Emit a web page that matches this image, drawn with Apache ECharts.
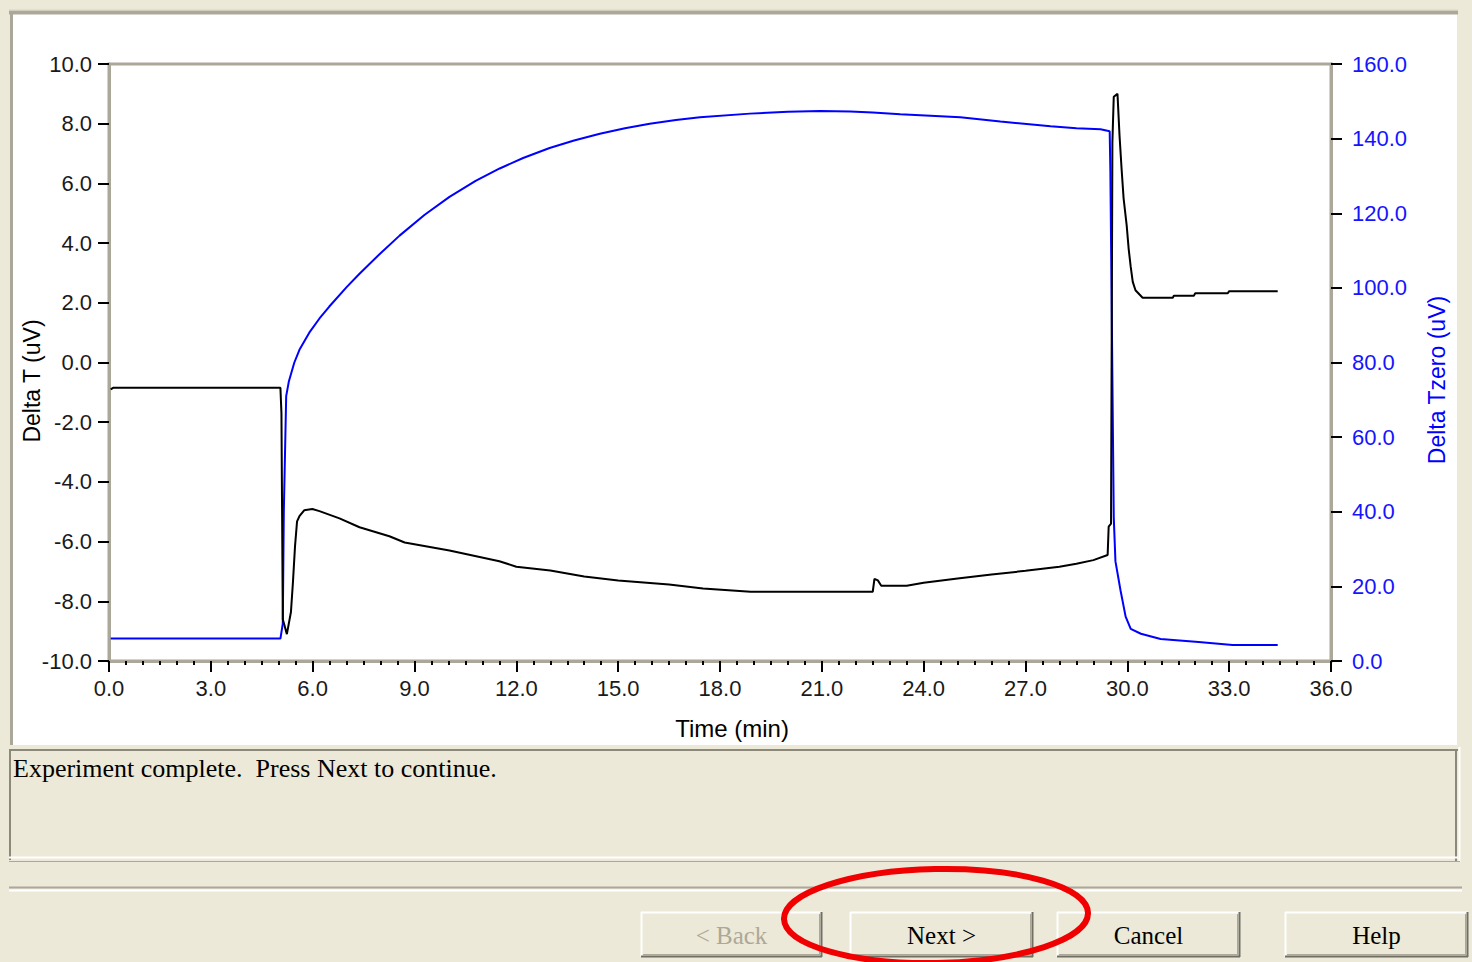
<!DOCTYPE html>
<html>
<head>
<meta charset="utf-8">
<script src="https://cdn.jsdelivr.net/npm/echarts@6/dist/echarts.min.js"></script>
<style>
html,body{margin:0;padding:0;background:#ece9d8;}
#chart{width:1472px;height:962px;}
</style>
</head>
<body>
<div id="chart"></div>
<script>
// ---- Data ----
const blackTime = [0.05, 0.12, 5.05, 5.08, 5.12, 5.24, 5.36, 5.42, 5.48, 5.54, 5.61, 5.75, 5.99, 6.20, 6.79, 7.38, 8.26, 8.71, 10.03, 11.5, 12.0, 13.0, 14.0, 15.0, 16.5, 17.5, 18.9, 22.5, 22.55, 22.65, 22.75, 23.5, 24.0, 25.0, 26.0, 27.0, 28.0, 28.5, 29.0, 29.42, 29.45, 29.52, 29.56, 29.6, 29.71, 29.77, 29.83, 29.89, 29.98, 30.04, 30.1, 30.16, 30.24, 30.45, 31.34, 31.37, 31.96, 32.0, 32.96, 33.0, 34.43];
const deltaT = [-0.9, -0.85, -0.85, -1.7, -8.6, -9.1, -8.36, -7.34, -6.16, -5.32, -5.15, -4.95, -4.91, -4.98, -5.22, -5.52, -5.82, -6.03, -6.30, -6.66, -6.84, -6.97, -7.17, -7.30, -7.44, -7.57, -7.68, -7.68, -7.25, -7.30, -7.48, -7.48, -7.38, -7.24, -7.10, -6.98, -6.84, -6.74, -6.62, -6.45, -5.5, -5.4, 7.4, 8.9, 9.0, 7.6, 6.5, 5.5, 4.6, 3.8, 3.2, 2.7, 2.42, 2.17, 2.17, 2.24, 2.24, 2.32, 2.32, 2.39, 2.39];

const blueTime = [0.05, 5.05, 5.12, 5.15, 5.22, 5.3, 5.46, 5.61, 5.9, 6.2, 6.49, 7.0, 7.38, 8.0, 8.56, 9.3, 10.03, 10.8, 11.51, 12.2, 12.98, 13.7, 14.46, 15.2, 15.93, 16.7, 17.41, 18.88, 20.0, 20.95, 21.84, 22.5, 23.31, 24.2, 25.08, 26.26, 27.74, 28.5, 29.21, 29.48, 29.5, 29.6, 29.65, 29.8, 29.95, 30.1, 30.4, 30.98, 32.1, 33.1, 34.43];
const deltaTzero = [6.0, 6.0, 10, 40, 71, 75, 80, 83.4, 88.0, 91.8, 95.0, 100.2, 103.8, 109.3, 114.0, 119.6, 124.4, 128.7, 132.0, 134.8, 137.5, 139.5, 141.3, 142.8, 144.0, 145.0, 145.7, 146.7, 147.2, 147.4, 147.3, 147.0, 146.5, 146.1, 145.7, 144.6, 143.3, 142.8, 142.5, 142.0, 131.4, 38.5, 26.7, 18.9, 11.9, 8.6, 7.3, 5.9, 5.1, 4.3, 4.3];

const xTitle = 'Time (min)';
const yLeftTitle = 'Delta T (uV)';
const yRightTitle = 'Delta Tzero (uV)';
const statusText = 'Experiment complete.  Press Next to continue.';
const buttonLabels = ['< Back', 'Next >', 'Cancel', 'Help'];

// ---- Chart ----
const chart = echarts.init(document.getElementById('chart'), null, {renderer: 'svg'});

const tickFont = {fontFamily: 'Liberation Sans, Arial, sans-serif', fontSize: 22};
const fmt = v => v.toFixed(1);
const GRAY = '#aca899';
const DARK = '#716f64';
const BEIGE = '#ece9d8';

function hline(x1, x2, y, color, w, z) {
  return {type: 'line', z: z || 1, silent: true, shape: {x1: x1, y1: y, x2: x2, y2: y}, style: {stroke: color, lineWidth: w || 1}};
}
function vline(x, y1, y2, color, w, z) {
  return {type: 'line', z: z || 1, silent: true, shape: {x1: x, y1: y1, x2: x, y2: y2}, style: {stroke: color, lineWidth: w || 1}};
}
function button(x1, x2, label, color) {
  const y1 = 912, y2 = 957;
  return [
    {type: 'rect', z: 1, silent: true, shape: {x: x1, y: y1, width: x2 - x1, height: y2 - y1}, style: {fill: BEIGE}},
    hline(x1, x2, y1 + 0.5, '#ffffff', 2, 2),
    vline(x1 + 0.5, y1, y2, '#ffffff', 2, 2),
    hline(x1, x2, y2 - 0.5, DARK, 2, 2),
    vline(x2 - 0.5, y1, y2, DARK, 2, 2),
    hline(x1 + 2, x2 - 2, y2 - 2.5, GRAY, 1, 2),
    vline(x2 - 2.5, y1 + 2, y2 - 2, GRAY, 1, 2),
    {type: 'text', z: 3, silent: true, x: (x1 + x2) / 2, y: 935,
     style: {text: label, fill: color, font: '25px "Liberation Serif", "Times New Roman", serif', align: 'center', verticalAlign: 'middle'}}
  ];
}

const graphics = [
  // white chart panel
  {type: 'rect', z: -10, silent: true, shape: {x: 12, y: 14, width: 1445, height: 731}, style: {fill: '#ffffff'}},
  hline(9, 1458, 12.5, GRAY, 4, -9),
  vline(11.5, 11, 745, GRAY, 3, -9),
  hline(9, 1458, 10, '#d8d4c4', 1, -9),
  // status box
  hline(9, 1458, 750, '#8c897b', 2, 1),
  vline(10, 749, 860, '#8c897b', 2, 1),
  vline(1456, 749, 861, '#8c897b', 2, 1),
  vline(1459.5, 747, 862, '#ffffff', 2, 1),
  hline(9, 1458, 857.5, '#ffffff', 2, 1),
  hline(9, 1460, 861.5, GRAY, 1, 1),
  {type: 'text', z: 3, silent: true, x: 13, y: 768,
   style: {text: statusText, fill: '#000000', font: '26px "Liberation Serif", "Times New Roman", serif', align: 'left', verticalAlign: 'middle'}},
  // separator
  hline(9, 1462, 887.5, GRAY, 2, 1),
  hline(9, 1462, 890.5, '#ffffff', 2, 1),
  // axis titles
  {type: 'text', z: 5, silent: true, x: 720 + 12, y: 728,
   style: {text: xTitle, fill: '#000000', font: '24px "Liberation Sans", Arial, sans-serif', align: 'center', verticalAlign: 'middle'}},
  {type: 'text', z: 5, silent: true, x: 32, y: 381, rotation: Math.PI / 2,
   style: {text: yLeftTitle, fill: '#000000', font: '23px "Liberation Sans", Arial, sans-serif', align: 'center', verticalAlign: 'middle'}},
  {type: 'text', z: 5, silent: true, x: 1437, y: 380, rotation: Math.PI / 2,
   style: {text: yRightTitle, fill: '#0000ff', font: '23px "Liberation Sans", Arial, sans-serif', align: 'center', verticalAlign: 'middle'}}
]
.concat(button(641, 822, buttonLabels[0], '#aca899'))
.concat(button(850, 1033, buttonLabels[1], '#000000'))
.concat(button(1057, 1240, buttonLabels[2], '#000000'))
.concat(button(1285, 1468, buttonLabels[3], '#000000'))
.concat([
  {type: 'ellipse', z: 50, silent: true, x: 936, y: 916, rotation: 0.02,
   shape: {cx: 0, cy: 0, rx: 152, ry: 47}, style: {fill: 'none', stroke: '#f00000', lineWidth: 6}}
]);

const option = {
  animation: false,
  backgroundColor: BEIGE,
  grid: {left: 109, right: 141, top: 64, bottom: 301, show: true, borderColor: GRAY, borderWidth: 3, backgroundColor: 'transparent', containLabel: false},
  xAxis: {
    type: 'value', min: 0, max: 36, interval: 3,
    axisLine: {show: true, onZero: false, lineStyle: {color: GRAY, width: 3}},
    axisTick: {show: true, length: 11, lineStyle: {color: '#000000', width: 2}},
    minorTick: {show: true, splitNumber: 6, length: 4, lineStyle: {color: '#000000', width: 2}},
    splitLine: {show: false}, minorSplitLine: {show: false},
    axisLabel: Object.assign({formatter: fmt, color: '#1a1a1a', margin: 16}, tickFont)
  },
  yAxis: [
    {
      type: 'value', min: -10, max: 10, interval: 2, position: 'left',
      axisLine: {show: true, onZero: false, lineStyle: {color: GRAY, width: 3}},
      axisTick: {show: true, length: 11, lineStyle: {color: '#000000', width: 2}},
      splitLine: {show: false},
      axisLabel: Object.assign({formatter: fmt, color: '#1a1a1a', margin: 17}, tickFont)
    },
    {
      type: 'value', min: 0, max: 160, interval: 20, position: 'right',
      axisLine: {show: true, onZero: false, lineStyle: {color: GRAY, width: 3}},
      axisTick: {show: true, length: 11, lineStyle: {color: '#000000', width: 2}},
      splitLine: {show: false},
      axisLabel: Object.assign({formatter: fmt, color: '#1414ff', margin: 21}, tickFont)
    }
  ],
  series: [
    {
      name: 'Delta T', type: 'line', yAxisIndex: 0, showSymbol: false, z: 3,
      lineStyle: {color: '#000000', width: 2}, itemStyle: {color: '#000000'},
      data: blackTime.map((t, i) => [t, deltaT[i]])
    },
    {
      name: 'Delta Tzero', type: 'line', yAxisIndex: 1, showSymbol: false, z: 2,
      lineStyle: {color: '#0000ff', width: 2}, itemStyle: {color: '#0000ff'},
      data: blueTime.map((t, i) => [t, deltaTzero[i]])
    }
  ],
  graphic: {elements: graphics}
};
chart.setOption(option);
</script>
</body>
</html>
